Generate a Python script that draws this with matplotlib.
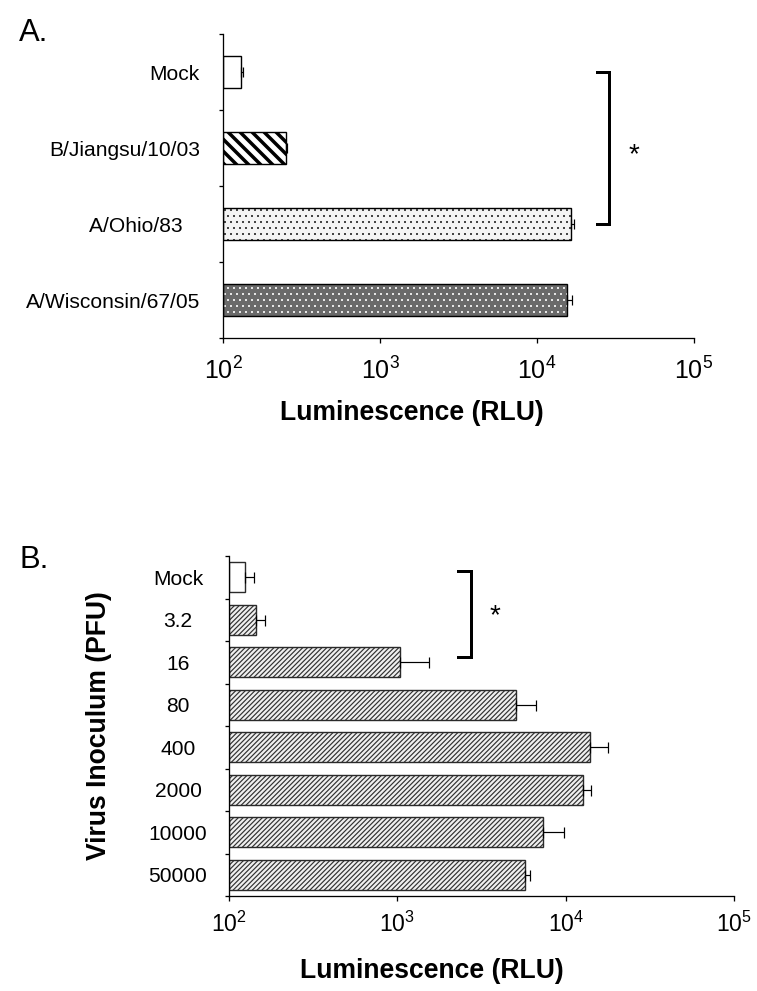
import matplotlib.pyplot as plt
import matplotlib.ticker as mticker
import numpy as np

# Fonts: Arial-like text, and the same font for the 10^n tick labels
plt.rcParams['font.family'] = 'Liberation Sans'
plt.rcParams['mathtext.fontset'] = 'custom'
plt.rcParams['mathtext.rm'] = 'Liberation Sans'

# Panel A: virus strains
strains = ['Mock', 'B/Jiangsu/10/03', 'A/Ohio/83   ', 'A/Wisconsin/67/05']
strain_rlu = [130, 252, 16400, 15600]
strain_err = [4, 4, 800, 1200]

# Panel B: inoculum titration
inoculum = ['Mock', '3.2', '16', '80', '400', '2000', '10000', '50000']
dose_rlu = [125, 146, 1040, 5080, 13960, 12580, 7350, 5750]
dose_err = [17, 18, 500, 1570, 3840, 1620, 2390, 350]

xticks = [1e2, 1e3, 1e4, 1e5]

# fill style per bar of panel A: (face, hatch, hatch colour, hatch linewidth)
styles_a = [('white', None, 'black', 1.0),
            ('white', '\\\\', 'black', 3.5),
            ('#f4f4f4', '..', '#222222', 0.8),
            ('#6a6a6a', '..', 'white', 0.8)]


def hatched_bar(ax, y, val, height, face, hatch, hcolor, hlw, edge, base):
    # hatch colour follows the edge colour, so draw fill+hatch first, outline after
    with plt.rc_context({'hatch.linewidth': hlw}):
        b = ax.barh(y, val - base, left=base, height=height, color=face,
                    hatch=hatch, edgecolor=hcolor, linewidth=0)
    for p in b:
        if hasattr(p, 'set_hatch_linewidth'):
            p.set_hatch_linewidth(hlw)
    ax.barh(y, val - base, left=base, height=height, fill=False,
            edgecolor=edge, linewidth=1.4)


def style_axes(ax, labels, tick_size, ypad, xpad):
    n = len(labels)
    ax.set_xscale('log')
    ax.set_xlim(xticks[0], xticks[-1])
    ax.set_ylim(n - 0.5, -0.5)
    ax.set_xticks(xticks)
    ax.xaxis.set_minor_locator(mticker.NullLocator())
    ax.set_yticks(np.arange(n))
    ax.set_yticklabels(labels)
    ax.set_yticks(np.arange(n + 1) - 0.5, minor=True)
    ax.tick_params(axis='y', which='major', length=0, pad=ypad, labelsize=21)
    ax.tick_params(axis='y', which='minor', length=4, width=1.3, direction='out')
    ax.tick_params(axis='x', length=5, width=1.3, pad=xpad, labelsize=tick_size)
    for s in ['top', 'right']:
        ax.spines[s].set_visible(False)
    for s in ['left', 'bottom']:
        ax.spines[s].set_linewidth(1.3)


fig = plt.figure(figsize=(757 / 72, 991 / 72), dpi=72)

# ---------- Panel A ----------
axA = fig.add_axes([223 / 757, 1 - 338 / 991, 471 / 757, 304 / 991])
ya = np.arange(len(strains))
for i in range(len(strains)):
    face, hatch, hc, hlw = styles_a[i]
    hatched_bar(axA, ya[i], strain_rlu[i], 0.41, face, hatch, hc, hlw, 'black', xticks[0])
axA.errorbar(strain_rlu, ya, xerr=[np.zeros(len(strains)), strain_err], fmt='none',
             ecolor='black', elinewidth=1.2, capsize=5, capthick=1.2)
style_axes(axA, strains, 25, 23, 14)
axA.set_xlabel('Luminescence (RLU)', fontsize=26.5, fontweight='bold', va='top')
axA.xaxis.set_label_coords(0.401, -0.204)

# significance bracket, Mock vs A/Ohio/83
axA.plot([24100, 28800, 28800, 24100], [0, 0, 2, 2], color='black', lw=3,
         clip_on=False, solid_joinstyle='miter')
axA.text(41500, 1.09, '*', fontsize=28, ha='center', va='center')

# ---------- Panel B ----------
axB = fig.add_axes([228.5 / 757, 1 - 896 / 991, 505.8 / 757, 340 / 991])
yb = np.arange(len(inoculum))
for i in range(len(inoculum)):
    if i == 0:
        hatched_bar(axB, yb[i], dose_rlu[i], 0.7, 'white', None, '#333333', 1.0, '#2a2a2a', xticks[0])
    else:
        hatched_bar(axB, yb[i], dose_rlu[i], 0.7, '#f0f0f0', '/////', '#333333', 1.2, '#2a2a2a', xticks[0])
axB.errorbar(dose_rlu, yb, xerr=[np.zeros(len(inoculum)), dose_err], fmt='none',
             ecolor='black', elinewidth=1.2, capsize=5.5, capthick=1.2)
style_axes(axB, inoculum, 23, 50.5, 11)
for t in axB.get_yticklabels():
    t.set_horizontalalignment('center')
axB.set_xlabel('Luminescence (RLU)', fontsize=26.5, fontweight='bold', va='top')
axB.xaxis.set_label_coords(0.402, -0.182)
axB.set_ylabel('Virus Inoculum (PFU)', fontsize=26.5, fontweight='bold')
axB.yaxis.set_label_coords(-0.23, 0.5)

axB.plot([2300, 2730, 2730, 2300], [-0.15, -0.15, 1.87, 1.87], color='black', lw=3,
         clip_on=False, solid_joinstyle='miter')
axB.text(3800, 0.91, '*', fontsize=28, ha='center', va='center')

# panel letters
fig.text(19 / 757, 1 - 41 / 991, 'A.', fontsize=31, va='baseline')
fig.text(20 / 757, 1 - 568 / 991, 'B.', fontsize=31, va='baseline')

fig.savefig('out.png', dpi=72)
